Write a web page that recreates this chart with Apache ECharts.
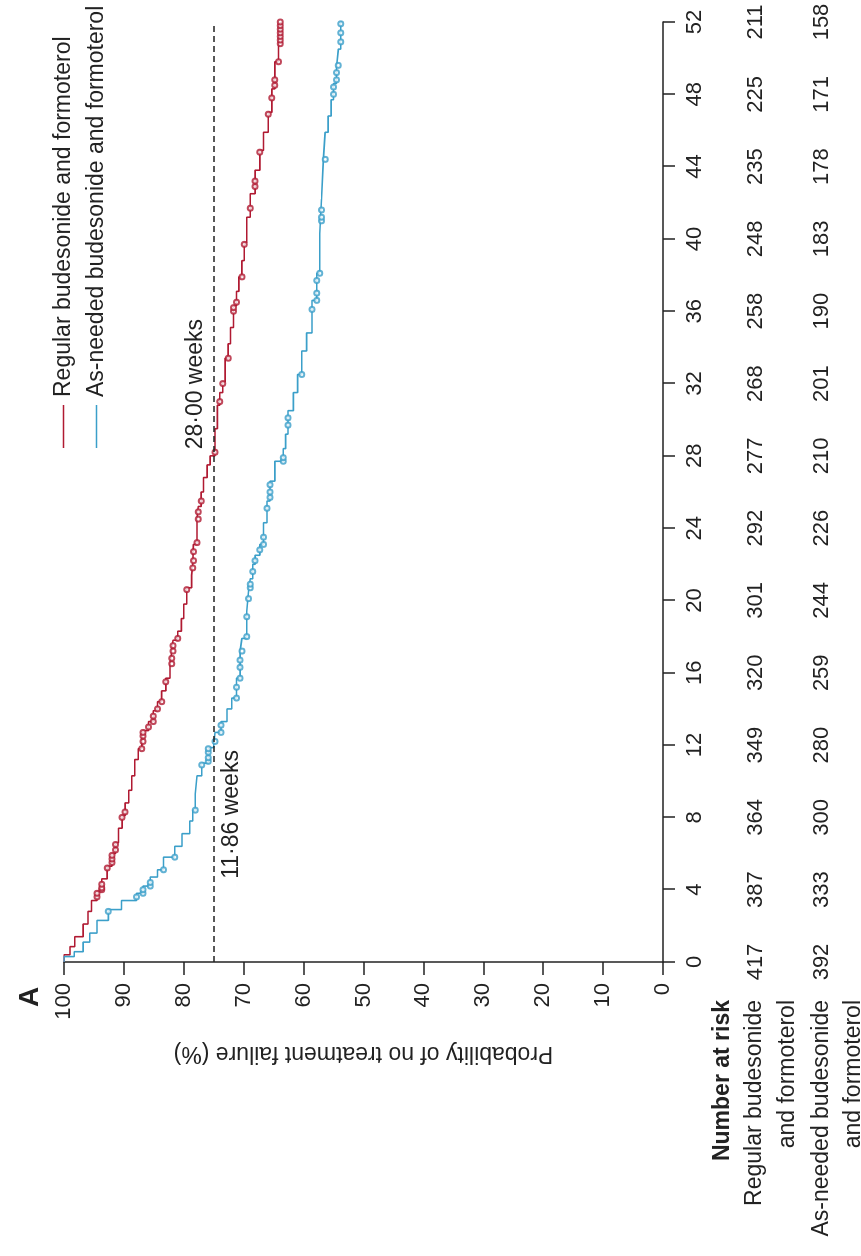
<!DOCTYPE html>
<html><head><meta charset="utf-8">
<script src="https://cdn.jsdelivr.net/npm/echarts@6/dist/echarts.min.js"></script>
<style>
html,body{margin:0;padding:0;background:#fff;overflow:hidden;width:861px;height:1256px;}
#chart{position:absolute;left:0;top:0;width:1256px;height:861px;transform-origin:0 0;transform:translateY(1256px) rotate(-90deg);}
</style></head><body><div id="chart"></div>
<script>
const weekTicks = [0,4,8,12,16,20,24,28,32,36,40,44,48,52];
const probTicks = [0,10,20,30,40,50,60,70,80,90,100];
const seriesNames = ['Regular budesonide and formoterol','As-needed budesonide and formoterol'];
const riskRegular = [417,387,364,349,320,301,292,277,268,258,248,235,225,211];
const riskAsNeeded = [392,333,300,280,259,244,226,210,201,190,183,178,171,158];

const regularTime = [0,0.4,0.85,1.4,2.1,2.8,3.4,3.9,4.6,5.3,6.0,6.6,7.4,8.1,8.8,9.5,10.3,11.2,11.8,12.2,12.8,13.3,13.9,14.4,15.0,15.7,16.4,17.2,17.8,18.3,19.0,19.8,20.7,21.4,22.0,23.1,24.5,25.2,26.0,26.8,27.5,28.0,29.5,30.8,31.5,32.1,33.4,34.2,35.1,36.3,37.1,37.9,38.8,39.8,41.2,42.5,43.8,44.9,45.9,47.0,48.3,49.8,50.6,52.0];
const regularSurv = [100,99.0,98.2,96.8,96.0,95.4,94.5,93.7,92.8,92.0,91.4,90.9,90.3,89.8,89.2,88.7,88.2,87.6,87.0,86.8,85.9,85.1,84.4,83.7,83.0,82.3,82.0,81.8,81.0,80.4,80.0,79.5,78.7,78.5,78.4,77.8,77.6,77.1,76.7,76.1,75.6,74.8,74.4,74.0,73.5,73.1,72.6,72.2,71.7,71.2,70.8,70.3,69.9,69.5,68.9,68.1,67.3,66.7,65.9,65.3,64.8,64.2,63.9,63.9];
const asNeededTime = [0,0.3,0.57,1.1,1.6,2.3,2.9,3.4,3.8,4.2,4.7,5.1,5.8,6.4,7.1,7.8,8.4,9.3,10.3,11.0,11.86,12.0,12.7,13.3,14.0,14.6,15.7,17.2,17.9,19.4,20.5,21.2,22.0,22.5,23.1,24.3,25.5,26.6,27.7,28.4,29.2,30.5,31.5,32.5,33.8,34.8,36.6,38.1,40.3,42.2,44.4,45.9,46.8,47.7,48.6,49.5,50.5,52.0];
const asNeededSurv = [100,98.3,96.8,95.7,94.5,92.6,90.4,87.9,86.8,85.6,84.4,83.4,81.5,80.3,79.0,78.5,78.1,77.8,77.0,75.9,75.0,74.8,73.8,72.8,72.0,71.2,70.6,70.3,69.5,69.2,68.9,68.5,68.1,67.3,66.7,66.1,65.6,64.8,63.4,63.0,62.6,61.7,61.0,60.3,59.5,58.6,57.8,57.3,57.0,56.7,56.4,55.9,55.4,55.0,54.5,54.2,53.8,53.6];

const regularCensor = [3.6,3.8,4.0,4.1,4.3,5.2,5.5,5.7,5.9,6.2,6.5,8.0,8.3,11.8,12.2,12.5,12.7,13.0,13.3,13.6,14.0,14.4,15.5,16.5,16.8,17.2,17.5,17.9,20.6,21.8,22.2,22.7,23.2,24.5,24.9,25.5,28.2,31.0,32.0,33.4,36.0,36.2,36.5,37.9,39.7,41.7,42.9,43.2,44.8,46.9,47.8,48.5,48.8,49.8,50.8,51.0,51.2,51.4,51.6,51.8,52.0];
const asNeededCensor = [2.8,3.6,3.8,4.0,4.2,4.4,5.1,5.8,8.4,10.9,11.1,11.3,11.6,11.8,12.2,12.7,13.1,14.6,15.2,15.7,16.3,16.7,17.2,18.0,19.1,20.1,20.7,20.9,21.6,22.2,22.8,23.1,23.5,25.1,25.7,26.0,26.4,27.7,27.9,29.7,30.1,32.5,36.1,36.6,37.0,37.7,38.1,41.0,41.2,41.6,44.4,48.0,48.4,48.8,49.2,49.6,50.9,51.4,51.9];

const quartileLevel = 75;
const quartileRegular = 28.00;
const quartileAsNeeded = 11.86;

const RED = '#b01a32', BLUE = '#3b9fc9', INK = '#222';
const FONT = '"Liberation Sans", Arial, sans-serif';

function zip(t, s){ return t.map((v,i)=>[v, s[i]]); }
function survAt(t, times, surv){ let v = surv[0]; for (let i=0;i<times.length;i++){ if (times[i] <= t) v = surv[i]; } return v; }

const chart = echarts.init(document.getElementById('chart'), null, {width:1256, height:861, renderer:'canvas'});
const numLabel = {fontSize:22, color:INK, fontFamily:FONT};
const riskAxis = (offset, arr) => ({
  type:'value', min:weekTicks[0], max:weekTicks[weekTicks.length-1], interval:4, position:'bottom', offset:offset,
  axisLine:{show:false}, axisTick:{show:false}, splitLine:{show:false},
  axisLabel:Object.assign({margin:8, showMinLabel:true, showMaxLabel:true, formatter:v=>String(arr[weekTicks.indexOf(v)])}, numLabel)
});
const txt = (x,y,text,extra) => ({type:'text', x:x, y:y, silent:true, style:Object.assign({text:text, fill:INK, fontSize:23, fontFamily:FONT, align:'right', verticalAlign:'middle'}, extra||{})});

chart.setOption({
  animation:false,
  backgroundColor:'#fff',
  grid:{left:294, right:22, top:64, bottom:198, containLabel:false},
  legend:{orient:'vertical', left:803, top:47, itemWidth:43, itemHeight:1.6, itemGap:10,
    data:seriesNames.map(n=>({name:n, icon:'rect'})),
    textStyle:{fontSize:23, color:INK, fontFamily:FONT, padding:[0,0,0,3]}},
  xAxis:[
    {type:'value', min:weekTicks[0], max:weekTicks[weekTicks.length-1], interval:4,
     axisLine:{show:true, lineStyle:{color:INK, width:1.5}},
     axisTick:{show:true, length:12, lineStyle:{color:INK, width:1.5}},
     splitLine:{show:false},
     axisLabel:Object.assign({margin:21, showMinLabel:true, showMaxLabel:true}, numLabel)},
    riskAxis(74, riskRegular),
    riskAxis(140, riskAsNeeded)
  ],
  yAxis:{type:'value', min:probTicks[0], max:probTicks[probTicks.length-1], interval:10,
    axisLine:{show:true, lineStyle:{color:INK, width:1.5}},
    axisTick:{show:true, length:13, lineStyle:{color:INK, width:1.5}},
    splitLine:{show:false},
    axisLabel:Object.assign({margin:21}, numLabel),
    name:'Probability of no treatment failure (%)', nameLocation:'middle', nameGap:80,
    nameTextStyle:{fontSize:23, color:INK, fontFamily:FONT}},
  graphic:[
    txt(259, 30, 'A', {fontSize:28, fontWeight:'bold', align:'center'}),
    txt(256, 723, 'Number at risk', {fontWeight:'bold'}),
    txt(256, 755, 'Regular budesonide'),
    txt(256, 788, 'and formoterol'),
    txt(256, 822, 'As-needed budesonide'),
    txt(256, 854, 'and formoterol')
  ],
  series:[
    {name:seriesNames[0], type:'line', step:'end', symbol:'none', data:zip(regularTime, regularSurv),
     lineStyle:{color:RED, width:1.6}, itemStyle:{color:RED}, z:3,
     markLine:{silent:true, symbol:['none','none'], label:{show:false},
       lineStyle:{type:[6,4], color:INK, width:1.5}, data:[{yAxis:quartileLevel}]},
     markPoint:{silent:true, symbol:'circle', symbolSize:1, itemStyle:{color:'rgba(0,0,0,0)'},
       data:[
         {coord:[quartileAsNeeded, quartileLevel], label:{show:true, formatter:'11·86 weeks', position:'left', distance:2, offset:[0,18], fontSize:23, color:INK, fontFamily:FONT}},
         {coord:[quartileRegular, quartileLevel], label:{show:true, formatter:'28·00 weeks', position:'right', distance:6, offset:[0,-18], fontSize:23, color:INK, fontFamily:FONT}}
       ]}},
    {name:seriesNames[1], type:'line', step:'end', symbol:'none', data:zip(asNeededTime, asNeededSurv),
     lineStyle:{color:BLUE, width:1.6}, itemStyle:{color:BLUE}, z:3},
    {name:'regularCensor', type:'scatter', symbol:'emptyCircle', symbolSize:5,
     data:regularCensor.map(t=>[t, survAt(t, regularTime, regularSurv)]),
     itemStyle:{color:RED, borderColor:RED, borderWidth:1.2}, z:4},
    {name:'asNeededCensor', type:'scatter', symbol:'emptyCircle', symbolSize:5,
     data:asNeededCensor.map(t=>[t, survAt(t, asNeededTime, asNeededSurv)]),
     itemStyle:{color:BLUE, borderColor:BLUE, borderWidth:1.2}, z:4}
  ]
});
</script></body></html>
